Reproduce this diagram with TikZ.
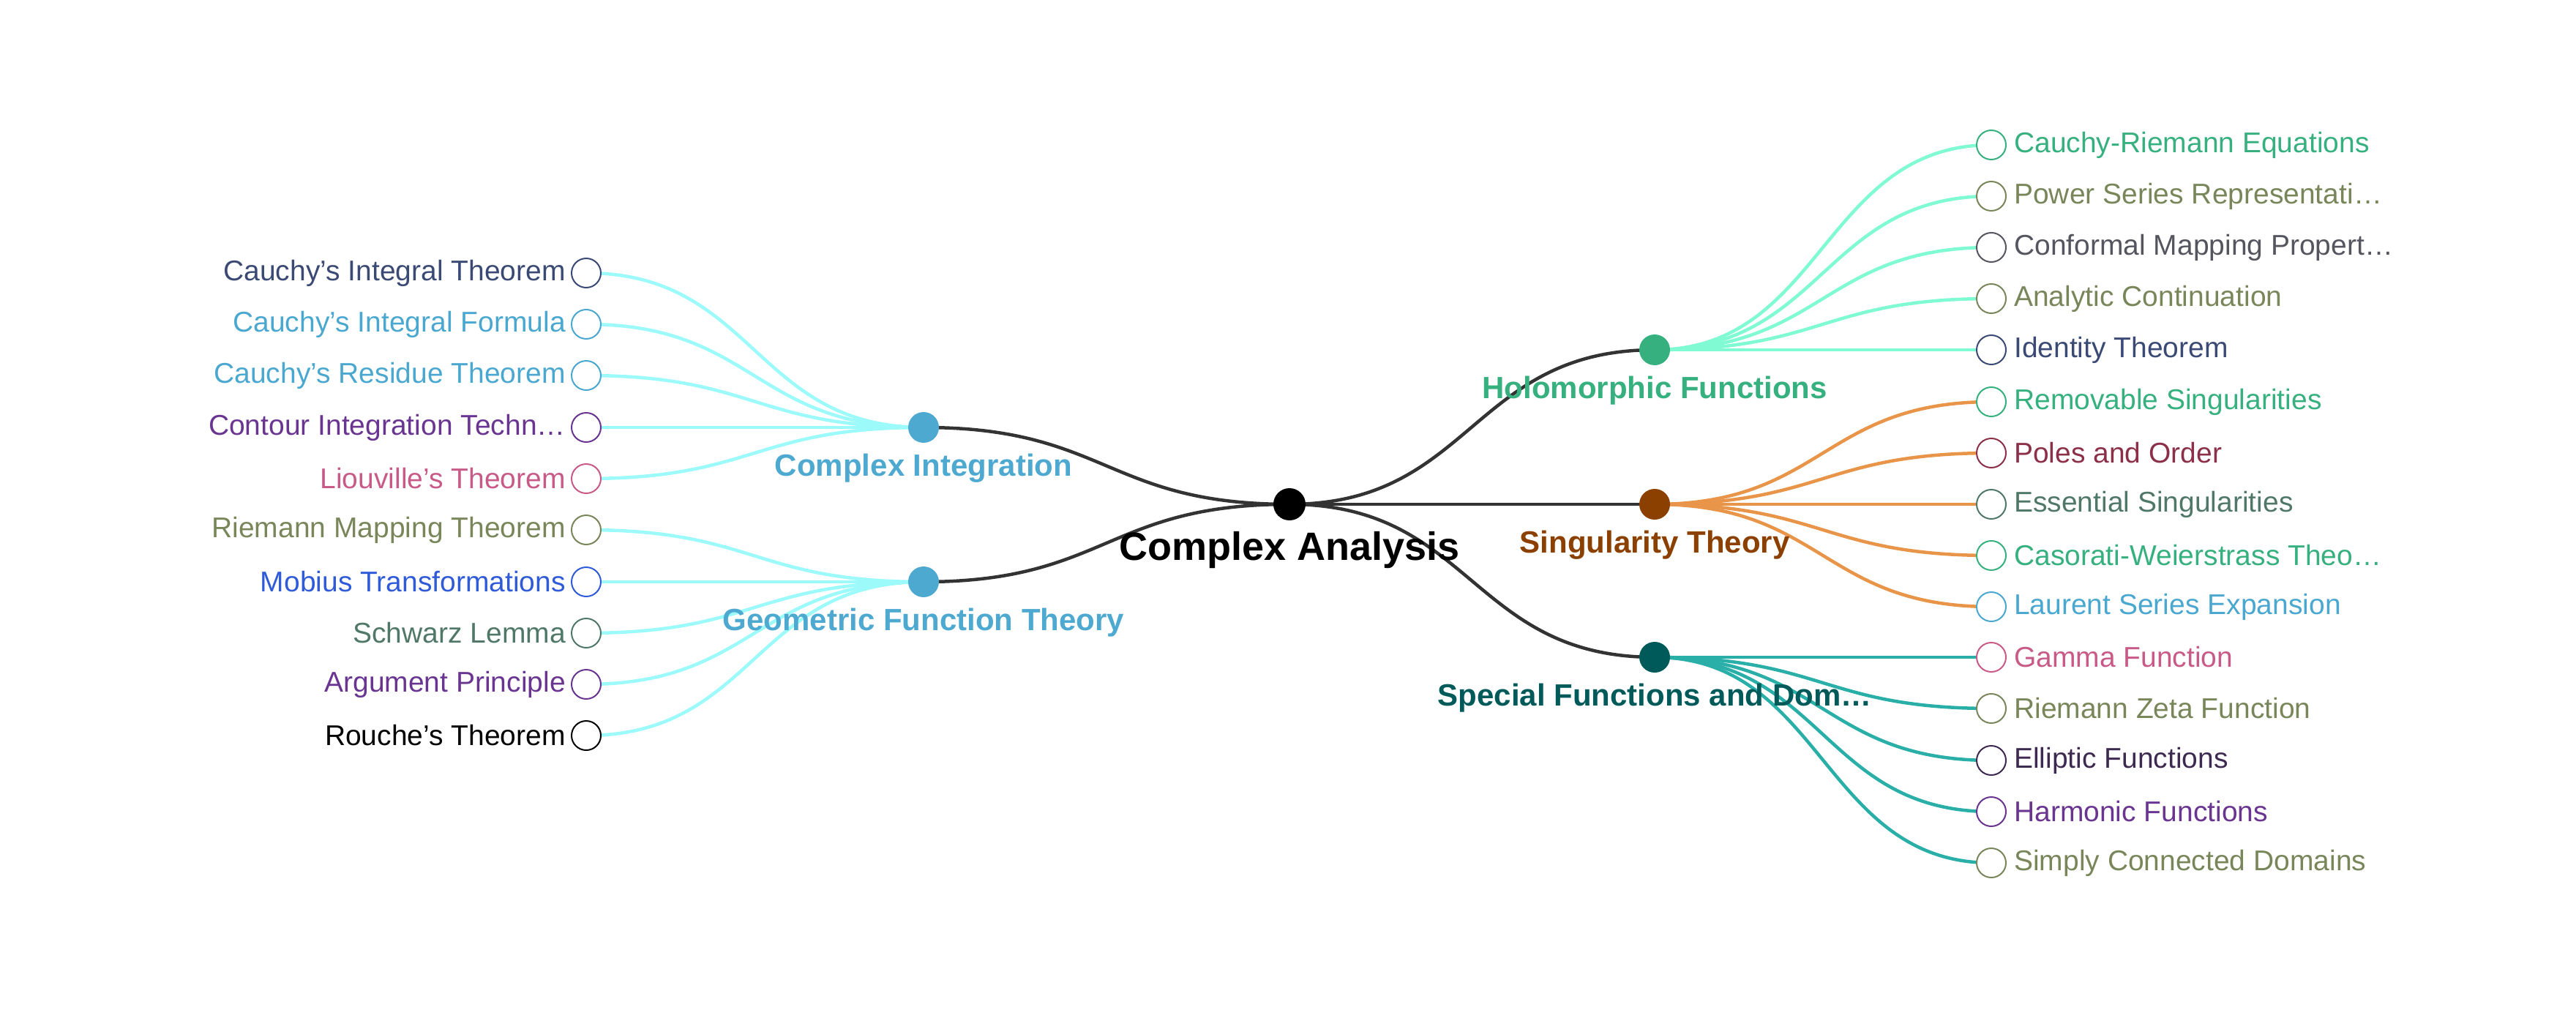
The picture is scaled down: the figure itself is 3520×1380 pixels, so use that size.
\documentclass[tikz,border=0pt]{standalone}
\usepackage{fontspec}
\setmainfont{Liberation Sans}
\usetikzlibrary{backgrounds}
\begin{document}
\begin{tikzpicture}[x=1pt,y=-1pt,
  leaf/.style={circle,draw=#1,line width=2pt,minimum size=40pt,inner sep=0pt,fill=white},
  hub/.style={circle,fill=#1,minimum size=42pt,inner sep=0pt},
  ltxt/.style={text=#1,font=\fontsize{39}{39}\selectfont,inner sep=0pt},
  btxt/.style={text=#1,font=\fontsize{42}{42}\selectfont\bfseries,inner sep=0pt},
  edge/.style={line width=4.5pt,draw=#1}]
\definecolor{cdark}{HTML}{3B4A74}\definecolor{cblue}{HTML}{4AA8D0}
\definecolor{cpurp}{HTML}{6A3590}\definecolor{cpink}{HTML}{C85A88}
\definecolor{colive}{HTML}{78865A}\definecolor{cmob}{HTML}{2F5BD8}
\definecolor{cgg}{HTML}{507868}\definecolor{cgreen}{HTML}{36B07E}
\definecolor{cgray}{HTML}{555560}\definecolor{cpole}{HTML}{8B3048}
\definecolor{cell}{HTML}{3E2A50}\definecolor{croot}{HTML}{333333}
\definecolor{eaqua}{HTML}{9CFAFA}\definecolor{eaquam}{HTML}{80FAD2}
\definecolor{eorange}{HTML}{E8954A}\definecolor{eteal}{HTML}{2AAFA8}
\definecolor{hci}{HTML}{4EA9D1}\definecolor{hsing}{HTML}{8B4000}\definecolor{hspec}{HTML}{005A5A}
\useasboundingbox (0,0) rectangle (3520,1380);
% root and hubs
\node[circle,fill=black,minimum size=44pt,inner sep=0pt] (root) at (1762,689) {};
\node[font=\fontsize{54}{54}\selectfont\bfseries,inner sep=0pt] (rootl) at (1762,752) {Complex Analysis};
\node[hub=hci] (ci) at (1262,584) {};
\node[hub=hci] (gf) at (1262,795) {};
\node[hub=cgreen] (ho) at (2261,478) {};
\node[hub=hsing] (si) at (2261,689) {};
\node[hub=hspec] (sp) at (2261,898) {};
\node[btxt=hci] (cil) at (1262,640) {Complex Integration};
\node[btxt=hci] (gfl) at (1262,851) {Geometric Function Theory};
\node[btxt=cgreen] (hol) at (2261,534) {Holomorphic Functions};
\node[btxt=hsing] (sil) at (2261,745) {Singularity Theory};
\node[btxt=hspec] (spl) at (2261,954) {Special Functions and Dom\ldots};
% leaves
\newcommand\LL[4]{\node[leaf=#3] (#1) at (801,#2) {}; \node[ltxt=#3,anchor=east] (#1t) at (773,#2) {#4};}
\newcommand\RL[4]{\node[leaf=#3] (#1) at (2721,#2) {}; \node[ltxt=#3,anchor=west] (#1t) at (2752,#2) {#4};}
\LL{L1}{373}{cdark}{Cauchy's Integral Theorem}
\LL{L2}{443}{cblue}{Cauchy's Integral Formula}
\LL{L3}{513}{cblue}{Cauchy's Residue Theorem}
\LL{L4}{584}{cpurp}{Contour Integration Techn\ldots}
\LL{L5}{654}{cpink}{Liouville's Theorem}
\LL{L6}{724}{colive}{Riemann Mapping Theorem}
\LL{L7}{795}{cmob}{Mobius Transformations}
\LL{L8}{865}{cgg}{Schwarz Lemma}
\LL{L9}{935}{cpurp}{Argument Principle}
\LL{L10}{1005}{black}{Rouche's Theorem}
\RL{R1}{198}{cgreen}{Cauchy-Riemann Equations}
\RL{R2}{268}{colive}{Power Series Representati\ldots}
\RL{R3}{338}{cgray}{Conformal Mapping Propert\ldots}
\RL{R4}{408}{colive}{Analytic Continuation}
\RL{R5}{478}{cdark}{Identity Theorem}
\RL{R6}{549}{cgreen}{Removable Singularities}
\RL{R7}{619}{cpole}{Poles and Order}
\RL{R8}{689}{cgg}{Essential Singularities}
\RL{R9}{759}{cgreen}{Casorati-Weierstrass Theo\ldots}
\RL{R10}{829}{cblue}{Laurent Series Expansion}
\RL{R11}{898}{cpink}{Gamma Function}
\RL{R12}{968}{colive}{Riemann Zeta Function}
\RL{R13}{1039}{cell}{Elliptic Functions}
\RL{R14}{1109}{cpurp}{Harmonic Functions}
\RL{R15}{1179}{colive}{Simply Connected Domains}
\begin{scope}[on background layer]
\draw[edge=croot] (root.center) .. controls (1512,689) and (1512,584) .. (ci.center);
\draw[edge=croot] (root.center) .. controls (1512,689) and (1512,795) .. (gf.center);
\draw[edge=croot] (root.center) .. controls (2011,689) and (2011,478) .. (ho.center);
\draw[edge=croot] (root.center) -- (si.center);
\draw[edge=croot] (root.center) .. controls (2011,689) and (2011,898) .. (sp.center);
\foreach \n/\y in {L1/373,L2/443,L3/513,L4/584,L5/654}
  \draw[edge=eaqua] (ci.center) .. controls (1031,584) and (1031,\y) .. (\n.center);
\foreach \n/\y in {L6/724,L7/795,L8/865,L9/935,L10/1005}
  \draw[edge=eaqua] (gf.center) .. controls (1031,795) and (1031,\y) .. (\n.center);
\foreach \n/\y in {R1/198,R2/268,R3/338,R4/408,R5/478}
  \draw[edge=eaquam] (ho.center) .. controls (2491,478) and (2491,\y) .. (\n.center);
\foreach \n/\y in {R6/549,R7/619,R8/689,R9/759,R10/829}
  \draw[edge=eorange] (si.center) .. controls (2491,689) and (2491,\y) .. (\n.center);
\foreach \n/\y in {R11/898,R12/968,R13/1039,R14/1109,R15/1179}
  \draw[edge=eteal] (sp.center) .. controls (2491,898) and (2491,\y) .. (\n.center);
\end{scope}
\end{tikzpicture}
\end{document}
